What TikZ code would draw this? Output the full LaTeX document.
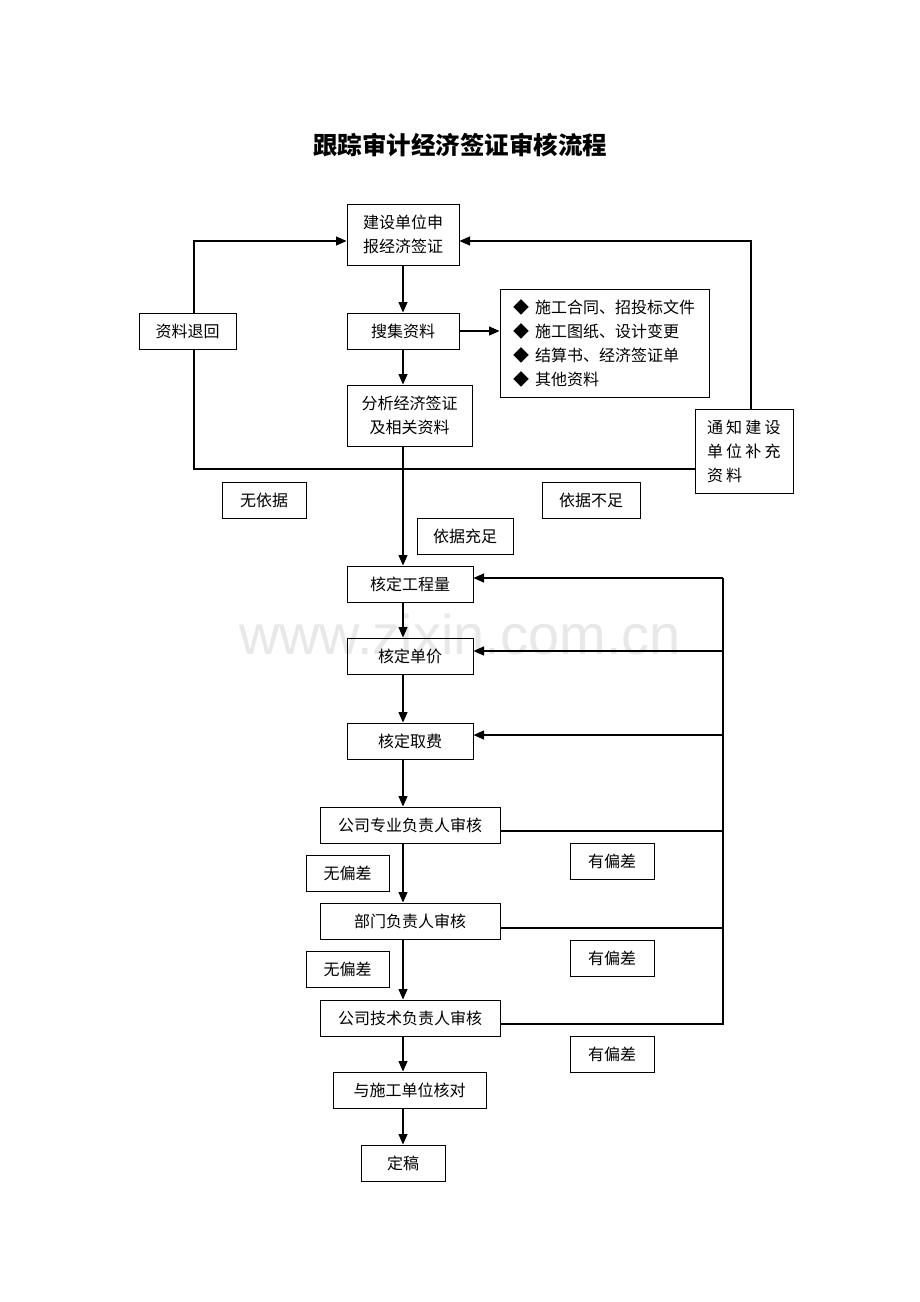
\documentclass[tikz,border=0pt]{standalone}
\usepackage{fontspec}
\setmainfont{Noto Sans CJK SC}
\newfontfamily\wmfont{Liberation Sans}
\usetikzlibrary{arrows.meta}
\begin{document}
\begin{tikzpicture}[x=1pt,y=-1pt,
  box/.style={draw,line width=1pt,inner sep=0pt,font=\fontsize{16}{24}\selectfont},
  ln/.style={line width=1.2pt},
  arr/.style={line width=1.2pt,-{Triangle[length=10.5pt,width=9pt]}}]
\useasboundingbox[fill=white] (0,0) rectangle (920,1302);
% watermark
\node[text=black!9,font=\wmfont\fontsize{56}{60}\selectfont,inner sep=0pt] (wm) at (460,634) {www.zixin.com.cn};
% title
\node[font=\bfseries\fontsize{24.5}{28}\selectfont,inner sep=0pt] (title) at (460,145) {跟踪审计经济签证审核流程};
% boxes
\node[box,minimum width=112pt,minimum height=61pt,align=center] (a) at (403,234.5) {建设单位申\\报经济签证};
\node[box,minimum width=97pt,minimum height=36pt] (ret) at (187.5,331) {资料退回};
\node[box,minimum width=112pt,minimum height=36pt] (b) at (403,331) {搜集资料};
\node[box,minimum width=209pt,minimum height=108pt,align=left,text width=183pt] (list) at (604.5,343) {◆\hspace{6pt}施工合同、招投标文件\\◆\hspace{6pt}施工图纸、设计变更\\◆\hspace{6pt}结算书、经济签证单\\◆\hspace{6pt}其他资料};
\node[box,minimum width=125pt,minimum height=61pt,align=center] (c) at (409.5,415.5) {分析经济签证\\及相关资料};
\node[box,minimum width=98pt,minimum height=84pt,align=left,text width=74pt] (n) at (744,451) {\addfontfeatures{LetterSpace=20}通知建设\\单位补充\\资料};
\node[box,minimum width=84pt,minimum height=36pt] (l1) at (264,500) {无依据};
\node[box,minimum width=98pt,minimum height=36pt] (l2) at (591,500) {依据不足};
\node[box,minimum width=96pt,minimum height=36pt] (l3) at (465,536) {依据充足};
\node[box,minimum width=126pt,minimum height=36pt] (d1) at (410,584) {核定工程量};
\node[box,minimum width=126pt,minimum height=36pt] (d2) at (410,656) {核定单价};
\node[box,minimum width=126pt,minimum height=36pt] (d3) at (410,741) {核定取费};
\node[box,minimum width=180pt,minimum height=36pt] (r1) at (410,825) {公司专业负责人审核};
\node[box,minimum width=83pt,minimum height=36pt] (w1) at (347.5,873) {无偏差};
\node[box,minimum width=84pt,minimum height=36pt] (y1) at (612,861) {有偏差};
\node[box,minimum width=180pt,minimum height=36pt] (r2) at (410,921) {部门负责人审核};
\node[box,minimum width=83pt,minimum height=36pt] (w2) at (347.5,969) {无偏差};
\node[box,minimum width=84pt,minimum height=36pt] (y2) at (612,958) {有偏差};
\node[box,minimum width=180pt,minimum height=36pt] (r3) at (410,1018) {公司技术负责人审核};
\node[box,minimum width=84pt,minimum height=36pt] (y3) at (612,1054) {有偏差};
\node[box,minimum width=153pt,minimum height=36pt] (e) at (409.5,1090) {与施工单位核对};
\node[box,minimum width=84pt,minimum height=36pt] (f) at (403,1163) {定稿};
% helper coordinates
\coordinate (sp) at (403,0);
\coordinate (lx) at (194,0);
\coordinate (rx) at (751,0);
\coordinate (rail) at (723,0);
\coordinate (ytop) at (0,241);
\coordinate (ybot) at (0,469);
\coordinate (q1) at (0,578);
\coordinate (q2) at (0,651);
\coordinate (q3) at (0,735);
\coordinate (q4) at (0,831);
\coordinate (q5) at (0,928);
\coordinate (q6) at (0,1024);
% main spine
\draw[arr] (a.south -| sp) -- (b.north -| sp);
\draw[arr] (b.south -| sp) -- (c.north -| sp);
\draw[arr] (c.south -| sp) -- (d1.north -| sp);
\draw[arr] (d1.south -| sp) -- (d2.north -| sp);
\draw[arr] (d2.south -| sp) -- (d3.north -| sp);
\draw[arr] (d3.south -| sp) -- (r1.north -| sp);
\draw[arr] (r1.south -| sp) -- (r2.north -| sp);
\draw[arr] (r2.south -| sp) -- (r3.north -| sp);
\draw[arr] (r3.south -| sp) -- (e.north -| sp);
\draw[arr] (e.south -| sp) -- (f.north);
\draw[arr] (b.east) -- (list.west |- b.east);
% left loop
\draw[arr] (ret.north -| lx) |- (a.west |- ytop);
\draw[ln] (ret.south -| lx) |- (n.west |- ybot);
% right loop
\draw[arr] (n.north -| rx) |- (a.east |- ytop);
% right rail
\draw[ln] (r3.east |- q6) -| (rail |- q1);
\draw[arr] (rail |- q1) -- (d1.east |- q1);
\draw[arr] (rail |- q2) -- (d2.east |- q2);
\draw[arr] (rail |- q3) -- (d3.east |- q3);
\draw[ln] (r1.east |- q4) -- (rail |- q4);
\draw[ln] (r2.east |- q5) -- (rail |- q5);
\end{tikzpicture}
\end{document}
